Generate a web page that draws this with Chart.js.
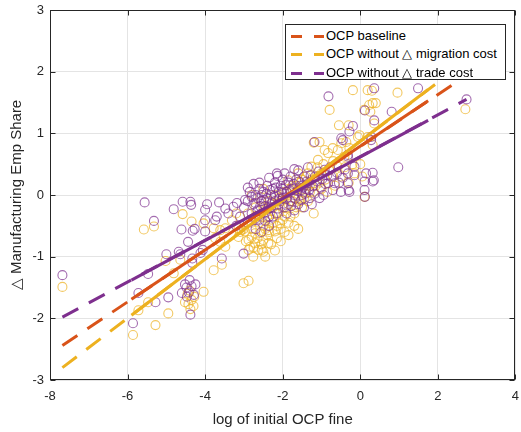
<!DOCTYPE html>
<html>
<head>
<meta charset="utf-8">
<script src="https://cdn.jsdelivr.net/npm/chart.js@4/dist/chart.umd.min.js"></script>
<style>
html,body{margin:0;padding:0;background:#fff;}
#wrap{position:relative;width:521px;height:432px;}
#legend{position:absolute;left:285px;top:24px;width:221px;height:56px;border:1px solid #262626;background:#fff;
  font:13px "Liberation Sans",Arial,Helvetica,sans-serif;color:#000;box-sizing:border-box;}
.row{position:absolute;left:0;width:100%;height:18px;}
.d{position:absolute;top:8px;height:3px;}
.t{position:absolute;left:40px;top:0;line-height:18px;white-space:nowrap;}
</style>
</head>
<body>
<div id="wrap">
  <canvas id="c" width="521" height="432"></canvas>
  <div id="legend"></div>
</div>
<script>
// ---- data ----
const xTicks = [-8, -6, -4, -2, 0, 2, 4];
const yTicks = [-3, -2, -1, 0, 1, 2, 3];
const seriesNames = ['OCP baseline', 'OCP without \u25B3 migration cost', 'OCP without \u25B3 trade cost'];

// fitted lines: x positions (start of dashed, start of solid, end of solid, end of dashed)
const fitX = [-7.68, -5.9, 1.75, 2.74];
const baselineFitY  = [-2.44, -1.69, 1.53, 1.94];
const migrationFitY = [-2.80, -1.95, 1.71, 2.18];
const tradeFitY     = [-1.98, -1.38, 1.21, 1.55];

// scatter: OCP without migration cost (yellow)
const migrationPts = [
 [-7.68,-1.49],
 [-5.58,-0.56],[-5.32,-0.51],[-5.72,-1.87],[-5.47,-1.74],[-5.86,-2.27],[-5.28,-2.11],
 [-5.02,-1.07],[-4.95,-1.92],[-4.58,-0.31],[-4.35,-0.43],[-4.81,-1.27],[-4.04,-1.57],[-4.64,-1.05],
 [-4.43,-1.77],[-4.52,-1.74],[-4.30,-1.80],[-4.35,-1.70],[-4.45,-1.60],[-4.40,-1.55],[-4.28,-1.65],[-4.38,-1.85],
 [-3.78,-1.22],[-3.57,-1.13],[-3.01,-1.43],[-2.88,-1.39],
 [-4.04,-0.46],[-3.78,-0.54],[-3.61,-0.57],[-3.48,-0.54],[-3.74,-0.70],[-3.61,-0.76],[-3.48,-0.84],
 [-3.31,-0.41],[-3.14,-0.54],[-3.06,-0.57],[-2.97,-0.59],[-3.14,-0.68],[-2.88,-0.73],[-2.80,-0.68],
 [-2.71,-0.78],[-2.63,-0.89],[-2.88,-0.89],[-2.58,-0.62],
 [-2.84,-0.84],[-2.76,-1.00],[-2.54,-0.89],[-2.50,-0.73],[-2.37,-0.57],[-2.71,-0.62],[-2.07,-0.46],
 [-2.20,-0.59],[-2.50,-0.92],[-2.37,-0.78],
 [-3.00,-0.55],[-2.90,-0.30],[-2.80,-0.45],[-2.70,-0.20],[-2.65,-0.70],[-2.60,-0.35],[-2.55,-0.10],
 [-2.50,-0.50],[-2.45,-0.25],[-2.40,-0.65],[-2.35,-0.10],[-2.30,-0.40],[-2.25,-0.20],[-2.20,0.00],
 [-2.15,-0.50],[-2.10,-0.30],[-2.05,-0.10],[-2.00,-0.40],[-1.95,0.05],[-1.90,-0.20],[-1.85,-0.45],
 [-1.80,0.10],[-1.75,-0.10],[-1.70,-0.30],[-1.65,0.15],[-1.60,-0.05],[-1.55,0.20],[-1.50,-0.20],
 [-1.45,0.05],[-1.40,0.30],[-1.35,-0.10],[-1.30,0.15],[-1.20,0.05],[-1.10,0.30],[-1.00,0.10],
 [-2.95,-0.75],[-2.75,-0.85],[-2.30,-0.80],[-1.95,-0.60],[-1.60,-0.55],[-1.20,-0.30],[-3.20,-0.30],
 [-3.10,-0.60],[-2.80,0.00],[-2.50,0.10],
 [-2.60,-0.45],[-2.50,-0.20],[-2.45,-0.55],[-2.40,-0.35],[-2.35,-0.60],[-2.30,-0.15],[-2.25,-0.45],
 [-2.20,-0.30],[-2.15,-0.70],[-2.10,-0.05],[-2.05,-0.55],[-2.00,-0.20],[-1.95,-0.35],[-1.90,0.05],
 [-1.85,-0.15],[-1.80,-0.35],[-1.75,0.15],[-1.70,-0.05],[-1.65,-0.20],[-1.60,0.10],[-1.55,-0.10],
 [-1.50,0.25],[-1.45,-0.05],[-1.40,0.15],[-1.35,0.35],[-1.30,0.05],[-1.25,0.25],[-1.15,0.15],
 [-1.10,0.45],[-1.05,0.20],[-0.95,0.50],[-0.90,0.25],[-0.85,0.05],[-0.80,0.40],[-0.70,0.55],
 [-0.65,0.15],[-0.50,0.30],[-0.30,0.20],[-0.15,0.35],[0.00,0.50],[-2.80,-0.55],[-2.70,-0.35],
 [-2.55,-0.80],[-2.45,-1.00],[-2.20,-0.90],[-2.05,-0.75],[-1.85,-0.65],[-1.70,-0.50],
 [-0.79,1.38],[-0.19,1.70],[0.19,1.70],[0.30,1.69],[0.96,1.66],[2.71,1.39],[0.10,1.38],[0.23,1.46],
 [0.32,1.49],[0.40,1.49],[0.26,1.35],[0.36,1.16],[-0.55,1.13],[-0.30,1.13],[-0.02,0.97],[-1.05,0.86],
 [-1.20,0.85],[0.11,-0.03],
 [-0.92,0.73],[-0.83,0.68],[-0.71,0.76],[-0.58,0.73],[-0.49,0.84],[-0.36,0.86],[-0.28,0.76],[-0.41,0.62],
 [-0.58,0.46],[-1.26,0.46],[-1.09,0.57],[-1.60,0.35],[-1.86,0.24],[-0.06,0.94],[0.19,0.94],[0.32,0.81],
 [-0.40,0.45],[-0.20,0.50],[0.05,0.30],[-0.70,0.30],[-1.00,0.35]
];

// scatter: OCP without trade cost (purple)
const tradePts = [
 [-7.68,-1.30],
 [-5.56,-0.12],[-5.32,-0.42],[-5.47,-1.28],[-5.72,-1.59],[-5.28,-1.74],[-5.86,-2.08],
 [-5.00,-0.96],[-4.95,-1.66],[-4.81,-0.23],[-4.58,-0.11],[-4.38,-0.11],[-4.36,-0.16],
 [-4.61,-0.56],[-4.32,-0.58],[-4.27,-0.55],[-4.44,-0.76],[-4.68,-0.92],[-4.64,-0.96],[-4.12,-0.94],
 [-4.00,-0.24],[-3.95,-0.15],[-4.00,-0.41],[-4.00,-0.59],[-4.06,-0.89],[-3.74,-0.41],[-3.70,-0.35],
 [-3.64,-0.12],[-3.57,-1.03],[-3.01,-0.95],
 [-4.40,-1.38],[-4.35,-1.48],[-4.60,-1.59],[-4.47,-1.65],[-4.29,-1.62],[-4.38,-1.94],[-4.48,-1.50],
 [-4.25,-1.45],[-4.33,-1.10],[-4.33,-1.03],[-4.52,-1.45],[-4.42,-1.58],
 [-3.48,-0.22],[-3.40,-0.30],[-3.27,-0.19],[-3.18,-0.13],[-2.97,-0.08],[-2.80,-0.03],[-2.71,-0.13],[-2.54,0.00],
 [-3.00,-0.20],[-2.90,-0.10],[-2.85,0.05],[-2.80,-0.30],[-2.75,-0.15],[-2.70,0.00],[-2.65,-0.25],
 [-2.60,-0.40],[-2.60,0.10],[-2.55,-0.10],[-2.50,0.05],[-2.50,-0.30],[-2.45,-0.18],[-2.40,0.15],
 [-2.40,-0.05],[-2.35,-0.35],[-2.30,0.00],[-2.30,-0.20],[-2.25,0.10],[-2.20,-0.10],[-2.20,0.20],
 [-2.15,-0.30],[-2.10,0.05],[-2.10,-0.15],[-2.05,0.15],[-2.00,-0.05],[-2.00,0.10],[-1.95,-0.20],
 [-1.90,0.05],[-1.85,0.20],[-1.80,-0.10],[-1.75,0.10],[-1.70,0.00],[-1.65,0.25],[-1.60,-0.15],
 [-1.55,0.15],[-1.50,0.00],[-1.45,0.30],[-1.40,0.10],[-1.30,-0.05],[-2.90,-0.45],[-2.70,-0.55],
 [-3.10,-0.35],[-3.20,-0.50],[-2.55,-0.60],[-2.35,-0.50],[-1.80,0.30],[-1.60,0.40],[-2.60,0.20],[-2.00,0.25],
 [-2.13,0.31],
 [-2.65,-0.05],[-2.58,-0.18],[-2.48,-0.08],[-2.42,0.02],[-2.38,-0.22],[-2.33,0.08],[-2.28,-0.12],
 [-2.22,-0.02],[-2.18,0.12],[-2.12,-0.22],[-2.08,-0.06],[-2.02,0.04],[-1.98,-0.14],[-1.92,0.16],
 [-1.88,-0.04],[-1.82,0.08],[-1.78,-0.18],[-1.72,0.18],[-1.68,-0.06],[-1.62,0.06],[-1.58,0.22],
 [-1.52,-0.08],[-1.48,0.12],[-1.42,0.02],[-1.38,0.22],[-1.32,0.08],[-1.28,0.32],[-1.22,0.14],
 [-1.18,0.02],[-1.12,0.22],[-1.08,0.38],[-1.02,0.12],[-0.98,0.26],[-0.90,0.18],[-0.85,0.32],
 [-0.78,0.45],[-0.60,0.36],[-0.55,0.20],[-0.50,0.05],[-0.45,0.28],
 [-2.70,-0.38],[-2.45,-0.42],[-2.25,-0.35],[-1.90,-0.30],[-1.70,-0.25],[-1.45,-0.20],[-2.90,0.12],
 [-2.75,0.18],[-2.35,0.28],[-2.15,0.35],[-1.95,0.35],[-1.70,0.42],[-1.35,0.45],[-1.25,-0.15],
 [-1.05,-0.05],[-0.95,0.00],
 [-0.82,1.60],[0.36,1.73],[1.49,1.73],[2.74,1.55],[0.12,1.37],[0.81,1.35],[0.36,1.21],[-0.19,1.12],
 [-1.18,0.86],[0.98,0.45],[0.15,0.35],[0.32,0.36],[0.35,0.24],[0.11,0.08],[-0.30,0.08],[-0.32,0.19],
 [-0.15,0.32],[-0.32,0.35],[0.28,0.94],[0.28,0.89],[-0.49,0.92],[-0.45,0.89],[-0.28,1.03],[-0.32,0.62],
 [-0.15,0.46],[0.32,0.22],[0.11,0.22],[-0.28,0.05],[0.12,-0.03],
 [-0.75,0.30],[-0.66,0.19],[-0.83,0.19],[-0.71,0.08],[-0.92,0.41],[-1.17,0.30],[-1.35,0.19],[-1.52,0.08],
 [-0.40,0.41],[-0.32,0.65]
];

// ---- styles ----
const ORANGE = '#D95319', YELLOW = '#EDB120', PURPLE = '#7E2F8E';
const FONT = '"Liberation Sans", Arial, Helvetica, sans-serif';
Chart.defaults.font.family = FONT;

const toXY = a => a.map(p => ({x: p[0], y: p[1]}));
const seg = (ys, i0, i1) => [{x: fitX[i0], y: ys[i0]}, {x: fitX[i1], y: ys[i1]}];
const lineDs = (ys, color, dashed, order) => ({
  type: 'line',
  data: dashed ? seg(ys, 0, 3) : seg(ys, 1, 2),
  borderColor: color, borderWidth: 3, borderDash: dashed ? [18, 12] : [],
  pointRadius: 0, fill: false, tension: 0, order: order, borderCapStyle: 'butt'
});

const boxPlugin = {
  id: 'box',
  afterDatasetsDraw(c) {
    const {ctx, chartArea: a, scales: {x, y}} = c;
    const L = Math.round(a.left) + 0.5, R = Math.round(a.right) - 0.5;
    const T = Math.round(a.top) + 0.5, B = Math.round(a.bottom) - 0.5;
    ctx.save();
    ctx.strokeStyle = '#262626';
    ctx.lineWidth = 1;
    ctx.strokeRect(L, T, R - L, B - T);
    ctx.beginPath();
    xTicks.forEach(v => {
      const px = Math.round(x.getPixelForValue(v)) + 0.5;
      ctx.moveTo(px, B); ctx.lineTo(px, B - 5);
      ctx.moveTo(px, T); ctx.lineTo(px, T + 5);
    });
    yTicks.forEach(v => {
      const py = Math.round(y.getPixelForValue(v)) + 0.5;
      ctx.moveTo(L, py); ctx.lineTo(L + 5, py);
      ctx.moveTo(R, py); ctx.lineTo(R - 5, py);
    });
    ctx.stroke();
    ctx.restore();
  }
};

new Chart(document.getElementById('c'), {
  type: 'scatter',
  data: {
    datasets: [
      {label: seriesNames[1], data: toXY(migrationPts), pointStyle: 'circle', pointRadius: 4.5,
       pointBorderWidth: 1.1, pointBackgroundColor: 'rgba(0,0,0,0)', pointBorderColor: 'rgba(237,177,32,0.7)', order: 10},
      {label: seriesNames[2], data: toXY(tradePts), pointStyle: 'circle', pointRadius: 4.5,
       pointBorderWidth: 1.1, pointBackgroundColor: 'rgba(0,0,0,0)', pointBorderColor: 'rgba(126,47,142,0.7)', order: 9},
      lineDs(baselineFitY, ORANGE, true, 8),
      lineDs(migrationFitY, YELLOW, true, 7),
      lineDs(tradeFitY, PURPLE, true, 6),
      lineDs(baselineFitY, ORANGE, false, 5),
      lineDs(migrationFitY, YELLOW, false, 4),
      lineDs(tradeFitY, PURPLE, false, 3)
    ]
  },
  options: {
    responsive: false,
    animation: false,
    layout: {padding: {top: 10, right: 3, left: 0, bottom: 0}},
    plugins: {legend: {display: false}, tooltip: {enabled: false}},
    scales: {
      x: {
        type: 'linear', min: -8, max: 4,
        afterBuildTicks: s => { s.ticks = xTicks.map(v => ({value: v})); },
        ticks: {color: '#262626', font: {size: 13}, padding: 9, maxRotation: 0},
        grid: {color: '#e4e4e4', drawTicks: false},
        border: {display: false},
        title: {display: true, text: 'log of initial OCP fine', color: '#262626', font: {size: 15}, padding: {top: 0, bottom: 3}},
        afterFit: s => { s.height = 52; s.paddingLeft = 0; s.paddingRight = 0; }
      },
      y: {
        type: 'linear', min: -3, max: 3,
        afterBuildTicks: s => { s.ticks = yTicks.map(v => ({value: v})); },
        ticks: {color: '#262626', font: {size: 13}, padding: 6},
        grid: {color: '#e4e4e4', drawTicks: false},
        border: {display: false},
        title: {display: true, text: '\u25B3 Manufacturing Emp Share', color: '#262626', font: {size: 15}, padding: {top: 8, bottom: 0}},
        afterFit: s => { s.width = 50; s.paddingTop = 0; s.paddingBottom = 0; }
      }
    }
  },
  plugins: [boxPlugin]
});

// ---- legend (HTML text) ----
const legendColors = [ORANGE, YELLOW, PURPLE];
const legendTops = [2, 20, 39];
const leg = document.getElementById('legend');
seriesNames.forEach((name, i) => {
  const row = document.createElement('div');
  row.className = 'row';
  row.style.top = legendTops[i] + 'px';
  const d1 = document.createElement('div'); d1.className = 'd';
  d1.style.left = '5px'; d1.style.width = '11px'; d1.style.background = legendColors[i];
  const d2 = document.createElement('div'); d2.className = 'd';
  d2.style.left = '28px'; d2.style.width = '10px'; d2.style.background = legendColors[i];
  const t = document.createElement('span'); t.className = 't'; t.textContent = name;
  row.appendChild(d1); row.appendChild(d2); row.appendChild(t);
  leg.appendChild(row);
});
</script>
</body>
</html>
